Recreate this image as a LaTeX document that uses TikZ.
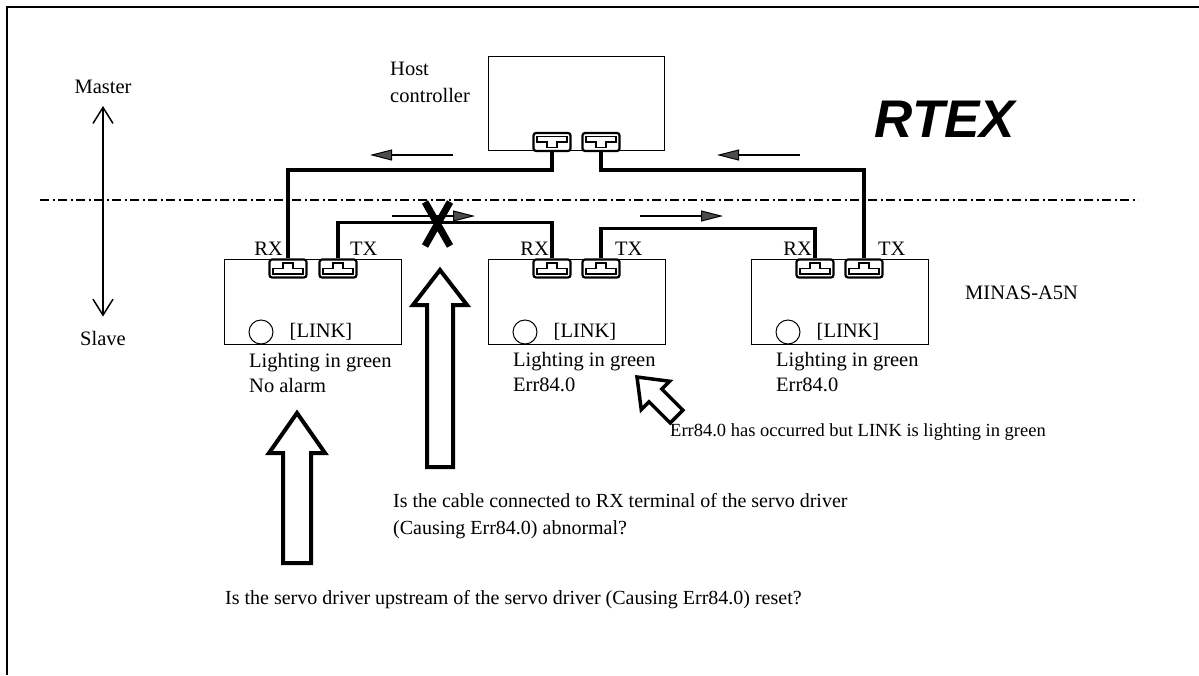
\documentclass[tikz,border=0pt]{standalone}
\usepackage{fontspec}
\setmainfont{Liberation Serif}
\newfontfamily\rtexfont{Liberation Sans}
\usetikzlibrary{arrows.meta}

\tikzset{
  unit/.style={draw,line width=1pt,minimum width=177pt,minimum height=85pt,inner sep=0pt},
  jacku/.style={draw,line width=2.2pt,rounded corners=2.5pt,minimum width=37pt,minimum height=18pt,inner sep=0pt,
    path picture={\draw[line width=1.1pt,sharp corners,shift={(path picture bounding box.center)}] (-15,5.5) -- (-15,0) -- (-5,0) -- (-5,-5.5) -- (5,-5.5) -- (5,0) -- (15,0) -- (15,5.5) -- cycle;}},
  jackd/.style={jacku,path picture={\draw[line width=1.1pt,sharp corners,shift={(path picture bounding box.center)}] (-15,-5.5) -- (-15,0) -- (-5,0) -- (-5,5.5) -- (5,5.5) -- (5,0) -- (15,0) -- (15,-5.5) -- cycle;}},
  cable/.style={line width=3.5pt},
  flow/.style={line width=2pt,-{Triangle[length=22pt,width=11pt,fill=black!70,line width=1pt]}},
  hollow/.style={line width=4pt,line join=miter},
  led/.style={circle,draw,line width=1pt,minimum size=24pt,inner sep=0pt},
  rtex/.style={font=\rtexfont\bfseries\itshape\fontsize{53}{56}\selectfont}
}

\begin{document}
\begin{tikzpicture}[x=1pt,y=-1pt,every node/.style={font=\fontsize{20.5}{25}\selectfont,inner sep=2pt}]
\useasboundingbox (0,0) rectangle (1199,675);
\draw[line width=2pt] (7,675) -- (7,7) -- (1199,7);
% master / slave
\node (mst) at (103,87) {Master}; \node (slv) at (103,338) {Slave};
\draw[line width=1.5pt,{Straight Barb[length=16pt,width=20pt]}-{Straight Barb[length=16pt,width=20pt]},shorten <=10pt,shorten >=12pt] (mst.south) -- (slv.north);
\draw[line width=1.2pt,dash pattern=on 9pt off 3.5pt on 2pt off 3.5pt] (40,200) -- (1138,200);
% host
\node[unit,minimum width=176pt,minimum height=94pt] (host) at (576,103) {};
\node[anchor=west,align=left,font=\fontsize{20.5}{27}\selectfont] (hostl) at (388,82.5) {Host\\controller};
\node[jackd] (htx) at (552,142) {}; \node[jackd] (hrx) at (601,142) {};
\node[rtex] (rtexl) at (945,119) {RTEX};
% slaves
\node[unit] (s1) at (312.5,301.5) {}; \node[unit] (s2) at (576.5,301.5) {}; \node[unit] (s3) at (839.5,301.5) {};
\node[jacku] (s1rx) at (288,268.5) {}; \node[jacku] (s1tx) at (338,268.5) {};
\node[jacku] (s2rx) at (552,268.5) {}; \node[jacku] (s2tx) at (601,268.5) {};
\node[jacku] (s3rx) at (815,268.5) {}; \node[jacku] (s3tx) at (864,268.5) {};
\node[anchor=east] (s1rxl) at (285,249) {RX}; \node[anchor=west] (s1txl) at (348,249) {TX};
\node[anchor=east] (s2rxl) at (551,249) {RX}; \node[anchor=west] (s2txl) at (613,249) {TX};
\node[anchor=east] (s3rxl) at (814,249) {RX}; \node[anchor=west] (s3txl) at (876,249) {TX};
\node[led] (s1led) at (261,332) {}; \node (s1link) at (321,332) {[LINK]};
\node[led] (s2led) at (525,332) {}; \node (s2link) at (585,332) {[LINK]};
\node[led] (s3led) at (788,332) {}; \node (s3link) at (848,332) {[LINK]};
\node[anchor=west,align=left] (s1st) at (247,372.5) {Lighting in green\\No alarm};
\node[anchor=west,align=left] (s2st) at (511,372.5) {Lighting in green\\Err84.0};
\node[anchor=west,align=left] (s3st) at (774,372.5) {Lighting in green\\Err84.0};
\node[anchor=west] (model) at (963,293) {MINAS-A5N};
% cables
\draw[cable] (htx.south) -- ++(0,18) -| (s1rx.north);
\draw[cable] (hrx.south) -- ++(0,18) -| (s3tx.north);
\draw[cable] (s1tx.north) -- ++(0,-36) -| (s2rx.north);
\draw[cable] (s2tx.north) -- ++(0,-30) -| (s3rx.north);
\draw[flow] (453,155) -- (370,155); \draw[flow] (800,155) -- (717,155);
\draw[flow] (392,216) -- (475,216); \draw[flow] (640,216) -- (723,216);
\draw[line width=7pt] (425,202) -- (450,246) (450,202) -- (425,246);
% checks
\draw[hollow] (297,413) -- (325,453) -- (311,453) -- (311,563) -- (283,563) -- (283,453) -- (269,453) -- cycle;
\draw[hollow] (440,270) -- (467,305) -- (453,305) -- (453,467) -- (427,467) -- (427,305) -- (413,305) -- cycle;
\draw[hollow,line width=3.5pt,shift={(637,377)},rotate=45] (0,0) -- (20,26) -- (9,26) -- (9,56) -- (-9,56) -- (-9,26) -- (-20,26) -- cycle;
\node[anchor=west,font=\fontsize{18.5}{22}\selectfont] (note) at (668,432) {Err84.0 has occurred but LINK is lighting in green};
\node[anchor=west,align=left,font=\fontsize{20}{27}\selectfont] (q1) at (391,516.5) {Is the cable connected to RX terminal of the servo driver\\(Causing Err84.0) abnormal?};
\node[anchor=west,font=\fontsize{20}{25}\selectfont] (q2) at (223,600) {Is the servo driver upstream of the servo driver (Causing Err84.0) reset?};
\end{tikzpicture}
\end{document}
